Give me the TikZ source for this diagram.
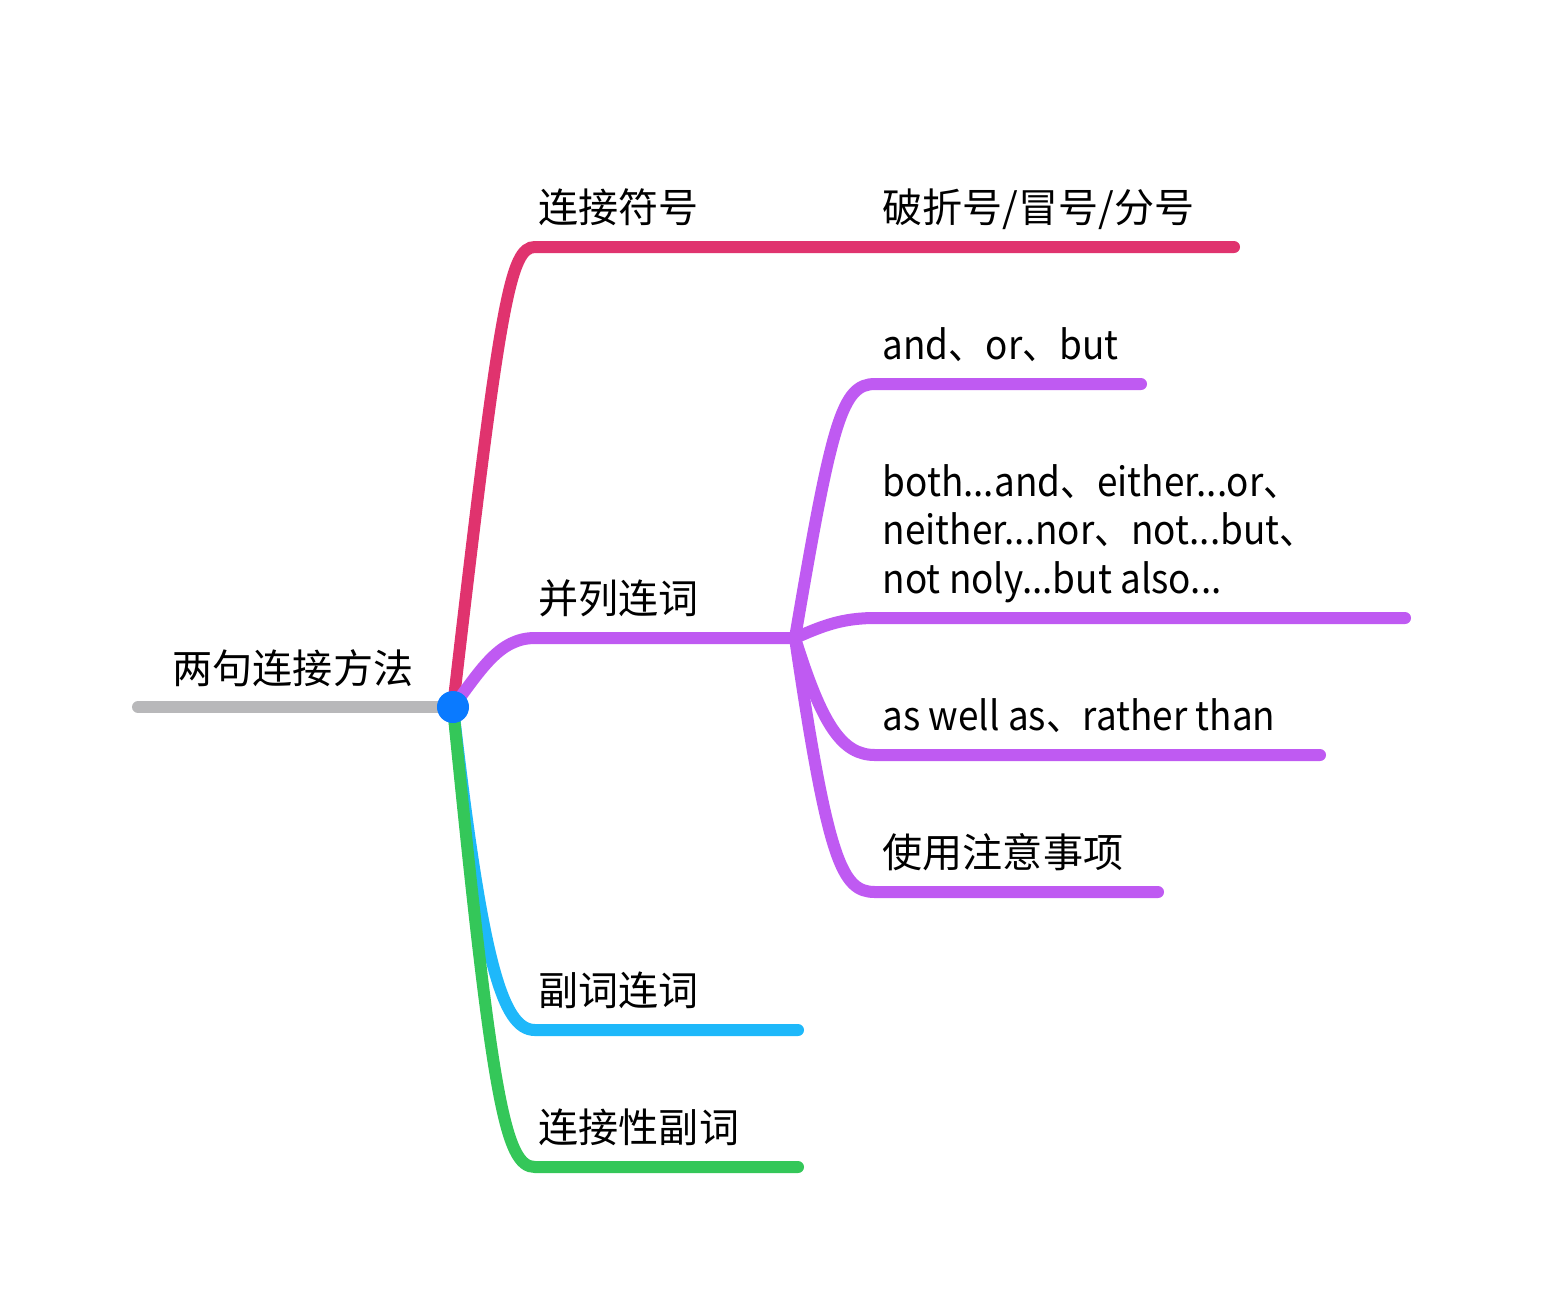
\documentclass[tikz,border=0pt]{standalone}
\usepackage{fontspec}
\setmainfont{Noto Sans CJK SC}
\newfontfamily\latinnarrow[FakeStretch=0.92]{Noto Sans CJK SC}
\usetikzlibrary{positioning}
\definecolor{rootgray}{RGB}{184,184,186}
\definecolor{redline}{RGB}{224,51,110}
\definecolor{purpleline}{RGB}{191,90,242}
\definecolor{cyanline}{RGB}{30,184,250}
\definecolor{greenline}{RGB}{52,199,89}
\definecolor{hubblue}{RGB}{10,122,255}
\begin{document}
\begin{tikzpicture}[x=0.01cm, y=-0.01cm,
    branch/.style={line width=0.12cm, line cap=round},
    topic/.style={anchor=base west, inner sep=0pt, font=\fontsize{11.4}{13.7}\selectfont, align=left},
    entopic/.style={topic, font=\latinnarrow\fontsize{11.4}{13.7}\selectfont}
  ]
  \useasboundingbox (0,0) rectangle (1542,1305);

  % Points
  \coordinate (hub) at (453,707);
  \coordinate (rootend) at (138,707);
  \coordinate (sym) at (535,247);
  \coordinate (symend) at (1234,247);
  \coordinate (par) at (535,638);
  \coordinate (parfork) at (795,638);
  \coordinate (adv) at (535,1030);
  \coordinate (advend) at (798,1030);
  \coordinate (conj) at (535,1167);
  \coordinate (conjend) at (798,1167);
  \coordinate (p1) at (875,384);
  \coordinate (p1end) at (1141,384);
  \coordinate (p2) at (875,618);
  \coordinate (p2end) at (1405,618);
  \coordinate (p3) at (875,755);
  \coordinate (p3end) at (1320,755);
  \coordinate (p4) at (875,892);
  \coordinate (p4end) at (1158,892);

  % Texts
  \node[topic] (roottext) at (172,683) {两句连接方法};
  \node[topic] (symtext) at (538,222) {连接符号};
  \node[topic] (symsub) at (882,222) {破折号/冒号/分号};
  \node[topic] (partext) at (538,613) {并列连词};
  \node[entopic] (p1text) at (882,359) {and、or、but};
  \node[entopic] (p2text) at (882,593) {both...and、either...or、\\neither...nor、not...but、\\not noly...but also...};
  \node[entopic] (p3text) at (882,730) {as well as、rather than};
  \node[topic] (p4text) at (882,867) {使用注意事项};
  \node[topic] (advtext) at (538,1005) {副词连词};
  \node[topic] (conjtext) at (538,1142) {连接性副词};

  % Lines
  \draw[branch, rootgray] (rootend) -- (hub);
  \draw[branch, redline] (hub) .. controls (500,300) and (510,247) .. (sym) -- (symend);
  \draw[branch, cyanline] (hub) .. controls (482,960) and (502,1030) .. (adv) -- (advend);
  \draw[branch, greenline] (hub) .. controls (492,1100) and (505,1167) .. (conj) -- (conjend);
  \draw[branch, purpleline] (hub) .. controls (482,668) and (500,638) .. (par) -- (parfork);
  \draw[branch, purpleline] (parfork) .. controls (832,420) and (842,384) .. (p1) -- (p1end);
  \draw[branch, purpleline] (parfork) .. controls (822,626) and (842,618) .. (p2) -- (p2end);
  \draw[branch, purpleline] (parfork) .. controls (822,725) and (842,755) .. (p3) -- (p3end);
  \draw[branch, purpleline] (parfork) .. controls (828,862) and (842,892) .. (p4) -- (p4end);

  % Hub dot
  \fill[hubblue] (hub) circle[radius=0.16cm];
\end{tikzpicture}
\end{document}
